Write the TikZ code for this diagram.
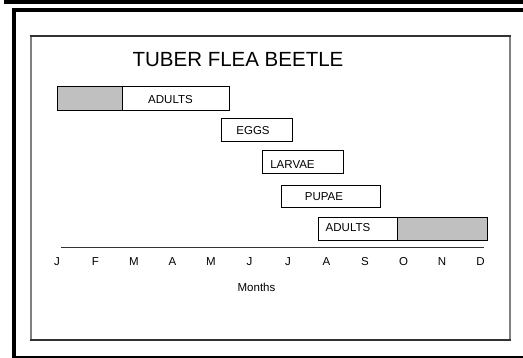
\documentclass[tikz,border=0pt]{standalone}
\usepackage{fontspec}
\setmainfont{Liberation Sans}
\definecolor{barfill}{RGB}{192,192,192}
\definecolor{edgedark}{RGB}{50,50,50}
\definecolor{edgelight}{RGB}{128,128,128}

\begin{document}
\begin{tikzpicture}[x=1pt, y=-1pt,
	bar/.style={draw=black, line width=0.8pt, fill=white},
	shaded/.style={bar, fill=barfill},
	lbl/.style={font=\fontsize{11.5}{13}\selectfont, inner sep=0pt},
	month/.style={lbl, anchor=base}]
	\useasboundingbox (0, 0) rectangle (523, 358);
	
	\fill (4, 0) rectangle (523, 4);
	\fill (12, 8) rectangle (523, 12);
	\fill (12, 8) rectangle (16, 358);
	\fill (12, 356) rectangle (523, 358);
	
	\draw[edgelight, line width=1.5pt] (31, 36) -- (31, 340);
	\draw[edgelight, line width=1.5pt] (510, 36) -- (510, 340);
	\draw[edgedark, line width=1.5pt] (30.25, 36) -- (510.75, 36);
	\draw[edgedark, line width=1.5pt] (30.25, 340) -- (510.75, 340);
	
	\node[anchor=base, inner sep=0pt, font=\fontsize{20.5}{24}\selectfont] (title) at (238, 67) {TUBER FLEA BEETLE};
	
	\draw[shaded] (57, 86) rectangle (122, 110);
	\draw[bar] (122, 86) rectangle (229, 110);
	\node[lbl] (adultsA) at (170.5, 100) {ADULTS};
	
	\draw[bar] (221, 118) rectangle (292, 141);
	\node[lbl] (eggs) at (253, 131) {EGGS};
	
	\draw[bar] (262, 150) rectangle (343, 173);
	\node[lbl] (larvae) at (292.5, 164.5) {LARVAE};
	
	\draw[bar] (281, 185) rectangle (380, 207);
	\node[lbl] (pupae) at (324, 196.5) {PUPAE};
	
	\draw[bar] (318, 217) rectangle (397, 240);
	\draw[shaded] (397, 217) rectangle (487, 240);
	\node[lbl] (adultsB) at (348, 228) {ADULTS};
	
	\draw[edgedark, line width=1pt] (61, 248) -- (484, 248);
	\foreach \m [count=\i from 0] in {J, F, M, A, M, J, J, A, S, O, N, D}
		\node[month] (m\i) at ({57 + 38.5*\i}, 265.5) {\m};
	\node[month] (months) at (256.5, 291.5) {Months};
\end{tikzpicture}
\end{document}
